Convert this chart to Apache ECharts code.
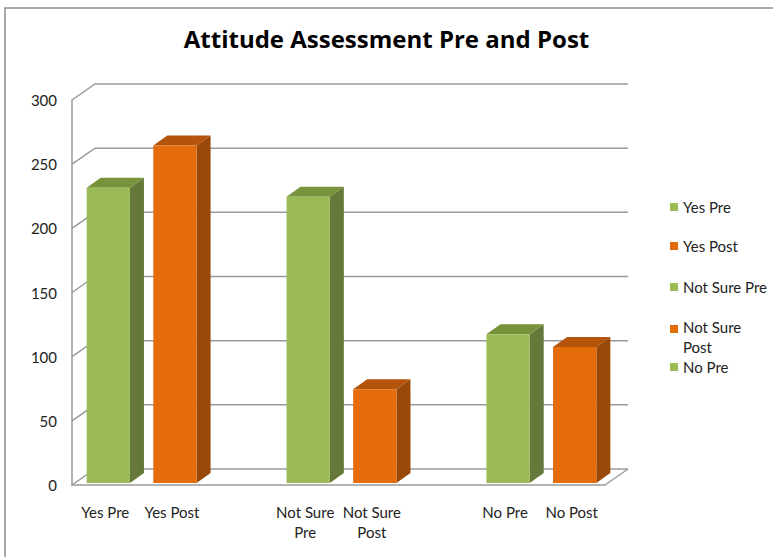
<!DOCTYPE html>
<html>
<head>
<meta charset="utf-8">
<style>
  html, body { margin: 0; padding: 0; background: #fff; }
  #chart { width: 773px; height: 557px; }
</style>
<script src="https://cdn.jsdelivr.net/npm/echarts@6/dist/echarts.min.js"></script>
</head>
<body>
<div id="chart"></div>
<script>
(function() {
  // --- data ---
  var categories = ['Yes Pre', 'Yes Post', '', 'Not Sure\nPre', 'Not Sure\nPost', '', 'No Pre', 'No Post'];
  var seriesNames = ['Yes Pre', 'Yes Post', 'Not Sure Pre', 'Not Sure Post', 'No Pre', 'No Post'];
  var seriesSlots = [0, 1, 3, 4, 6, 7];
  var seriesValues = [230, 263, 223, 73, 116, 106];
  var yTicks = [0, 50, 100, 150, 200, 250, 300];
  var legendNames = ['Yes Pre', 'Yes Post', 'Not Sure Pre', 'Not Sure Post', 'No Pre'];
  var legendTops = [197, 236, 277, 317, 357];

  var green = { front: '#9bbb59', side: '#67793a', top: '#77933c' };
  var orange = { front: '#e46c0a', side: '#984807', top: '#b3540a' };
  var frameColor = '#9a9a9a';
  var font = 'Lato, "Liberation Sans", sans-serif';

  // depth of the 3D box (back wall offset) and of the bars
  var wallDx = 23, wallDy = -16;
  var barOffX = 3, barOffY = -2;
  var barDx = 14, barDy = -10;

  var chart = echarts.init(document.getElementById('chart'), null, { renderer: 'svg' });

  function frameItem(params, api) {
    var t = api.value(0);
    var band = api.size([1, 0])[0];
    var y = api.coord([0, t])[1];
    var left = api.coord([0, t])[0] - band / 2;
    var right = api.coord([categories.length - 1, t])[0] + band / 2;
    var style = { stroke: frameColor, lineWidth: 1.5, fill: null };
    var children = [{
      type: 'polyline',
      shape: { points: [[left, y], [left + wallDx, y + wallDy], [right + wallDx, y + wallDy]] },
      style: style
    }];
    if (t === 0) {
      children.push({
        type: 'polyline',
        shape: { points: [[right, y], [right + wallDx, y + wallDy]] },
        style: style
      });
    }
    return { type: 'group', children: children };
  }

  function barItem(colors) {
    return function(params, api) {
      var slot = api.value(0);
      var v = api.value(1);
      var base = api.coord([slot, 0]);
      var top = api.coord([slot, v]);
      var w = api.size([1, 0])[0] * 0.65;
      var x0 = base[0] - w / 2 + barOffX;
      var x1 = x0 + w;
      var yb = base[1] + barOffY;
      var yt = top[1] + barOffY;
      return {
        type: 'group',
        children: [
          { type: 'polygon', shape: { points: [[x1, yt], [x1 + barDx, yt + barDy], [x1 + barDx, yb + barDy], [x1, yb]] },
            style: { fill: colors.side } },
          { type: 'polygon', shape: { points: [[x0, yt], [x1, yt], [x1 + barDx, yt + barDy], [x0 + barDx, yt + barDy]] },
            style: { fill: colors.top } },
          { type: 'rect', shape: { x: x0, y: yt, width: w, height: yb - yt },
            style: { fill: colors.front } }
        ]
      };
    };
  }

  var series = [{
    name: 'frame',
    type: 'custom',
    renderItem: frameItem,
    data: yTicks.map(function(t) { return [t]; }),
    encode: { y: 0 },
    silent: true,
    z: 1
  }];
  seriesNames.forEach(function(name, i) {
    var colors = i % 2 === 0 ? green : orange;
    series.push({
      name: name,
      type: 'custom',
      renderItem: barItem(colors),
      itemStyle: { color: colors.front },
      data: [[seriesSlots[i], seriesValues[i]]],
      encode: { x: 0, y: 1 },
      z: 2
    });
  });

  // two-line legend entry: square sits beside the first line
  var topSquare = 'path://M0,0h8v8h-8z M0,23.99h0.01v0.01h-0.01z';

  var legends = legendNames.map(function(name, i) {
    var twoLine = name === 'Not Sure Post';
    return {
      data: [name],
      left: 670,
      top: legendTops[i],
      padding: 0,
      icon: twoLine ? topSquare : 'rect',
      itemWidth: 8,
      itemHeight: twoLine ? 24 : 8,
      itemGap: 5,
      selectedMode: false,
      formatter: function(n) { return twoLine ? 'Not Sure\nPost' : n; },
      textStyle: { fontFamily: font, fontSize: 15, color: '#222', lineHeight: 20 }
    };
  });

  chart.setOption({
    animation: false,
    title: {
      text: 'Attitude Assessment Pre and Post',
      left: 'center',
      top: 26,
      padding: 0,
      textStyle: { fontFamily: '"Open Sans", sans-serif', fontSize: 24, fontWeight: 'bold', color: '#000' }
    },
    graphic: [{
      type: 'rect',
      shape: { x: 5, y: 8, width: 900, height: 700 },
      style: { fill: null, stroke: '#8c8c8c', lineWidth: 1.5 },
      silent: true
    }],
    legend: legends,
    grid: { left: 72, right: 168, top: 100, bottom: 72 },
    xAxis: {
      type: 'category',
      data: categories,
      axisLine: { lineStyle: { color: frameColor, width: 1.5 } },
      axisTick: { show: false },
      axisLabel: {
        interval: 0,
        margin: 17,
        fontFamily: font,
        fontSize: 15,
        color: '#222',
        lineHeight: 20
      }
    },
    yAxis: {
      type: 'value',
      min: 0,
      max: 300,
      interval: 50,
      axisLine: { show: true, lineStyle: { color: frameColor, width: 1.5 } },
      axisTick: { show: false },
      splitLine: { show: false },
      axisLabel: { margin: 15, fontFamily: font, fontSize: 15, color: '#222' }
    },
    series: series
  });
})();
</script>
</body>
</html>
